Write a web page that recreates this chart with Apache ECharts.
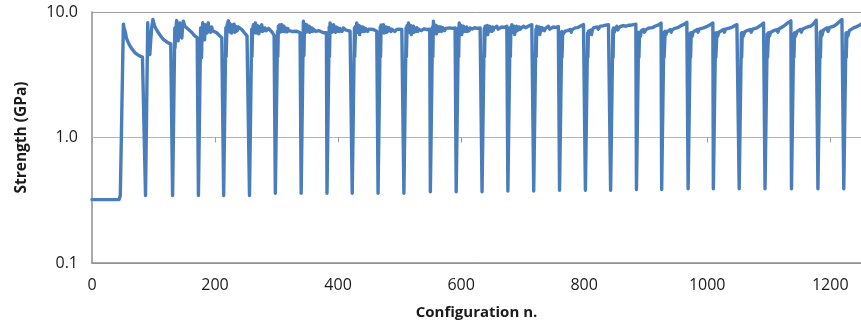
<!DOCTYPE html>
<html>
<head>
<meta charset="utf-8">
<script src="https://cdn.jsdelivr.net/npm/echarts@6/dist/echarts.min.js"></script>
<style>
html,body{margin:0;padding:0;background:#fff;}
#chart{width:861px;height:329px;}
</style>
</head>
<body>
<div id="chart"></div>
<script>
// Axis settings / tick labels
const xTickValues = [0, 200, 400, 600, 800, 1000, 1200];
const yTickLabels = ['0.1', '1.0', '10.0'];
const xAxisTitle = 'Configuration n.';
const yAxisTitle = 'Strength (GPa)';

// Strength (GPa) vs configuration number, one cycle per line
const strengthPoints = [
  [0,0.32],[44,0.32],[46,0.345],[48,0.345],[49,0.35],[51,8.0],[52,7.5],[54,7.0],[56,6.2],[59,5.7],[62,5.34],[66,5.0],[70,4.73],[74,4.58],[78,4.45],[82,4.38],[85,4.32],[86,4.3],
  [87,0.345],[90.2,0.345],[90.6,8.2],[91,7.0],[92,5.85],[94,4.58],[95,5.5],[97,7.47],[99,8.72],[100,8.3],[102,7.7],[105,7.2],[108,6.83],[112,6.4],[116,6.04],[120,5.85],[124,5.68],[128,5.58],[130,5.51],
  [131,0.345],[134.2,0.345],[134.6,7.47],[135,5.18],[136,6.8],[137.5,8.55],[139,7.6],[140,5.9],[141.5,7.25],[143,8.18],[144.5,7.0],[146,6.2],[147,7.3],[148.5,8.43],[151,7.7],[154,7.45],[157,7.25],[162,6.9],[167,6.45],[171,6.25],[172,6.2],
  [173,0.345],[176.2,0.345],[176.6,7.47],[177,6.5],[178,4.32],[179,7.0],[180,8.2],[181,7.3],[182,7.7],[183,6.0],[184,7.93],[185,7.1],[186,7.6],[186.8,6.8],[188,7.4],[189,8.2],[190,7.0],[190.8,7.6],[192,7.7],[193,6.9],[194.5,7.6],[196,7.1],[198,7.2],[202.7,6.83],[207,6.5],[211,6.24],[213,6.2],
  [214,0.345],[217.2,0.345],[217.6,7.5],[218,4.4],[219.5,7.8],[221.7,8.5],[223,7.0],[224,8.1],[225,6.9],[226,7.8],[227,6.8],[228,7.9],[229,7.0],[230,7.7],[231,8.0],[232,6.9],[233,7.7],[234,7.0],[235,7.6],[236,7.1],[238,7.6],[240.7,7.7],[244,7.2],[248,6.8],[252,6.45],[254.5,6.25],[255,6.2],
  [256,0.345],[259.2,0.345],[259.6,7.3],[260,4.4],[261,7.0],[262.3,7.93],[263,6.9],[264,7.6],[265.5,8.18],[266.3,6.8],[267,7.6],[268,6.9],[268.8,7.8],[269.6,6.9],[270.4,7.6],[271.2,6.7],[272,7.4],[273,7.0],[273.8,7.7],[275,7.1],[275.9,7.93],[277,7.0],[278,7.5],[279.5,7.1],[281.3,7.47],[283,7.1],[284,7.35],[287,7.4],[289.4,7.25],[293,6.9],[296,6.5],[297,6.43],
  [298,0.36],[301.2,0.36],[301.6,7.0],[302,4.4],[303,7.7],[303.8,7.0],[304.5,7.9],[305.3,6.9],[306,7.9],[307,7.0],[308.4,7.93],[309.2,7.0],[310,7.6],[311,7.1],[312,7.7],[313,7.0],[313.8,7.5],[315,7.0],[316,7.4],[317,6.95],[318,7.4],[320,7.1],[322,7.25],[325,7.0],[328,7.2],[332.8,7.03],[336,6.9],[338.2,6.83],[339,6.8],
  [340,0.36],[343.2,0.36],[343.6,8.43],[344.5,4.5],[345.3,7.6],[346,7.0],[347,8.0],[348,6.9],[349,7.93],[350,7.0],[351,7.6],[352,7.0],[353,7.7],[354,6.9],[355,7.5],[356,7.0],[357.2,7.47],[358.5,7.0],[360,7.3],[362,7.35],[363.5,7.0],[365.3,7.1],[369,7.1],[372,6.9],[376.2,6.83],[381,6.85],
  [382,0.36],[385.2,0.36],[385.6,7.6],[386,4.4],[387,8.18],[388,7.0],[389,7.9],[390,6.9],[391,7.8],[392,7.0],[392.8,7.93],[394,7.0],[395,7.6],[396,6.9],[397,7.6],[398,7.0],[399,7.5],[400.5,7.7],[402,7.0],[403,7.4],[405,7.5],[406.5,7.0],[408.7,7.47],[412,7.2],[415,7.25],[419.5,7.03],[422,7.0],
  [423,0.36],[426.2,0.36],[426.6,7.5],[427,4.4],[428.5,7.7],[429.3,7.0],[430.3,8.18],[431.2,6.9],[432,7.7],[433,6.9],[433.8,7.8],[435,6.6],[435.8,7.7],[437,7.0],[438,7.5],[439,7.0],[440,7.6],[441,7.0],[442,7.5],[443,7.0],[444.5,7.4],[446.6,7.47],[448,7.0],[450,7.3],[453,7.4],[457.4,7.25],[460,7.1],[462.9,7.03],[464,7.0],
  [465,0.36],[468.2,0.36],[468.6,7.6],[469,4.4],[470,7.9],[471,6.9],[472,7.8],[472.8,7.0],[473.7,7.93],[475,6.8],[476,7.6],[477,7.0],[478,7.6],[479,6.9],[480,7.5],[481,7.0],[482.5,7.5],[484.6,7.47],[486,7.0],[487,7.3],[490,7.4],[492,7.0],[495.4,7.25],[499,7.3],[503.6,7.25],[506,7.2],
  [507,0.36],[510.2,0.36],[510.6,7.5],[511,4.4],[512.2,7.8],[513.2,7.0],[514.4,8.18],[515.2,6.9],[516,7.6],[517,7.0],[518,7.8],[519,6.6],[520,7.7],[521,7.0],[522.5,7.7],[523.5,6.9],[525,7.4],[526,7.0],[528,7.5],[529.5,7.0],[531,7.3],[533.3,7.47],[535,7.1],[537,7.3],[540,7.35],[544.2,7.25],[547,7.2],[549,7.3],
  [550,0.37],[553.2,0.37],[553.6,7.6],[554,4.4],[555,8.43],[556,7.0],[557,7.9],[558,7.0],[559,7.8],[559.8,6.7],[560.6,7.7],[562,7.0],[563,7.6],[564,7.0],[565,7.6],[566,7.1],[567,7.6],[568,7.0],[570,7.5],[571.3,7.47],[573,7.1],[575,7.4],[578,7.5],[582.1,7.47],[586,7.4],[590.2,7.47],[591,7.5],
  [592,0.37],[595.2,0.37],[595.6,7.5],[596,4.4],[596.9,8.18],[597.8,7.0],[598.5,7.6],[599.3,6.9],[600,7.8],[601,6.6],[601.8,7.6],[602.8,7.0],[603.8,7.7],[605,7.0],[606,7.5],[607.5,7.0],[609,7.6],[610,7.0],[611,7.4],[613,7.1],[614.6,7.47],[618,7.3],[622,7.5],[626,7.4],[630.9,7.47],[633,7.5],
  [634,0.37],[637.2,0.37],[637.6,7.4],[638,4.4],[639,7.7],[640,7.0],[640.8,7.6],[641.6,6.9],[642.4,7.8],[643.4,6.6],[644.3,7.6],[645.2,7.0],[646.2,7.7],[647.2,7.93],[648.2,7.1],[649,7.5],[650,7.0],[651,7.6],[652,7.1],[653,7.4],[655,7.6],[658,7.7],[660,7.3],[662,7.5],[666,7.6],[670,7.55],[674.3,7.7],[675,7.7],
  [676,0.375],[679.2,0.375],[679.6,7.5],[680,4.4],[681,7.6],[681.8,7.0],[682.4,7.93],[683.2,7.0],[684,7.6],[685,6.9],[686,7.7],[687,6.6],[688,7.5],[689,7.0],[690,7.7],[691,7.1],[692,7.6],[693,7.2],[694.5,7.6],[696,7.3],[698,7.5],[701.4,7.7],[705,7.5],[709,7.7],[712,7.75],[714.9,7.93],[717,7.9],
  [718,0.375],[721.2,0.375],[721.6,7.3],[722,4.4],[723,7.7],[724,7.0],[725,7.6],[726,6.9],[727,7.6],[728,6.6],[729,7.5],[730,7.0],[731.5,7.5],[733.9,7.47],[735.5,7.1],[737,7.4],[740,7.6],[742,7.7],[744,7.3],[746,7.5],[750,7.6],[754,7.55],[758,7.65],[759,7.6],
  [760,0.38],[763.2,0.38],[763.6,7.0],[764,4.35],[765,6.6],[766,6.83],[767.5,6.5],[769.1,7.03],[771,6.8],[773,7.1],[775,7.0],[777.2,7.25],[779,6.9],[780,7.2],[783,7.4],[785.4,7.47],[789,7.5],[793.5,7.7],[796,7.8],[798.9,7.93],[801,8.0],
  [802,0.38],[805.2,0.38],[805.6,6.8],[806,4.35],[807,7.03],[809,6.8],[811,7.2],[812,6.6],[813,7.1],[815.1,7.47],[818,7.4],[821,7.6],[823,7.3],[826,7.7],[830,7.75],[835,7.85],[839.5,7.93],[842,8.0],
  [843,0.38],[846.2,0.38],[846.6,7.2],[847,4.35],[847.7,7.47],[849,6.9],[850,7.2],[853.1,7.7],[855,7.2],[856,7.5],[860,7.7],[863.9,7.8],[868,7.7],[872,7.85],[876,7.85],[880.2,7.93],[884,8.0],
  [885,0.385],[888.2,0.385],[888.6,6.9],[889,4.35],[890,6.8],[891.5,6.4],[893,7.1],[896.4,7.25],[898,6.9],[900,7.2],[904,7.4],[907.3,7.47],[911,7.5],[915,7.7],[918.2,7.8],[921,7.9],[923.6,8.1],[925,8.15],
  [926,0.385],[929.2,0.385],[929.6,6.9],[930,4.35],[931.7,7.03],[933,6.6],[934,6.9],[937,7.15],[939.8,7.25],[941.5,6.9],[943,7.2],[947,7.4],[950.7,7.47],[954,7.6],[958,7.8],[961.5,7.93],[964,8.1],[966.9,8.28],[968,8.3],
  [969,0.39],[972.2,0.39],[972.6,6.8],[973,4.35],[974,6.83],[975.5,6.4],[977,6.9],[980,7.1],[983.2,7.25],[985,6.9],[987,7.3],[990,7.35],[994,7.47],[998,7.6],[1001,7.8],[1004.9,7.93],[1007,8.05],[1009.2,8.18],
  [1010,0.39],[1013.2,0.39],[1013.6,6.8],[1014,4.35],[1015.8,6.83],[1017,6.4],[1019,6.9],[1022,7.1],[1026.5,7.25],[1028,6.9],[1030,7.3],[1034,7.4],[1037.4,7.47],[1041,7.6],[1045,7.8],[1048.3,7.93],[1051,8.18],
  [1052,0.39],[1055.2,0.39],[1055.6,6.8],[1056,4.35],[1057,6.83],[1058.5,6.4],[1061,6.95],[1066,7.15],[1069.9,7.25],[1071.5,6.9],[1074,7.3],[1077,7.4],[1080.8,7.47],[1084,7.6],[1088,7.9],[1091.6,8.18],[1093,8.25],
  [1094,0.39],[1097.2,0.39],[1097.6,6.7],[1098,4.35],[1099.7,6.83],[1101,6.4],[1103,6.9],[1108,7.1],[1113.3,7.25],[1115,6.9],[1117,7.35],[1120,7.5],[1124.1,7.7],[1127,7.9],[1131,8.2],[1133.9,8.43],[1136,8.5],
  [1137,0.39],[1140.2,0.39],[1140.6,6.7],[1141,4.35],[1142,6.83],[1143.5,6.4],[1146,7.0],[1151.2,7.25],[1153,6.9],[1155,7.3],[1159,7.45],[1163,7.6],[1167.5,7.7],[1171,7.9],[1174,8.2],[1177.2,8.6],[1179,8.6],
  [1180,0.39],[1183.2,0.39],[1183.6,6.9],[1184,4.35],[1185,7.03],[1186.5,6.5],[1189,7.2],[1194.6,7.47],[1196.5,7.0],[1199,7.55],[1205.4,7.7],[1209,7.9],[1213,8.2],[1216,8.5],[1219,8.72],[1221,8.7],
  [1222,0.39],[1225.2,0.39],[1225.6,6.8],[1226,4.35],[1227.1,6.83],[1228.5,6.4],[1231,7.1],[1234,7.3],[1237.9,7.47],[1242,7.6],[1245,7.8],[1248.8,7.93],[1250,8.0]
];

const chart = echarts.init(document.getElementById('chart'), null, {renderer: 'canvas'});
const labelFont = '"Open Sans", "Liberation Sans", sans-serif';

const option = {
  animation: false,
  backgroundColor: '#ffffff',
  grid: {left: 92, right: 0, top: 12, bottom: 66, containLabel: false},
  xAxis: [
    {
      type: 'value', min: 0, max: 1250, interval: 200, position: 'bottom',
      axisLine: {show: true, lineStyle: {color: '#8e8e8e', width: 1.5}},
      axisTick: {show: false},
      splitLine: {show: false},
      axisLabel: {
        show: true, margin: 14, fontSize: 16, color: '#1a1a1a', fontFamily: labelFont,
        showMaxLabel: false,
        formatter: function (v) { return xTickValues.indexOf(v) >= 0 ? String(v) : ''; }
      },
      name: xAxisTitle, nameLocation: 'middle', nameGap: 42,
      nameTextStyle: {fontSize: 15, fontWeight: 'bold', color: '#1a1a1a', fontFamily: labelFont}
    },
    {
      // horizontal axis crossing at 1.0 (Excel default for log scale), with its tick marks
      type: 'value', min: 0, max: 1250, interval: 200, position: 'bottom', offset: -125.5,
      axisLine: {show: true, lineStyle: {color: '#b4b4b4', width: 1}},
      axisTick: {show: true, length: 5, lineStyle: {color: '#9a9a9a', width: 1}},
      axisLabel: {show: false},
      splitLine: {show: false}
    }
  ],
  yAxis: {
    type: 'log', logBase: 10, min: 0.1, max: 10,
    axisLine: {show: true, lineStyle: {color: '#8e8e8e', width: 1.5}},
    axisTick: {show: false},
    minorTick: {show: false},
    splitLine: {show: true, lineStyle: {color: '#9e9e9e', width: 1}},
    axisLabel: {
      margin: 14, fontSize: 16, color: '#1a1a1a', fontFamily: labelFont,
      formatter: function (v) {
        const idx = Math.round(Math.log10(v)) + 1;
        return yTickLabels[idx] !== undefined ? yTickLabels[idx] : '';
      }
    },
    name: yAxisTitle, nameLocation: 'middle', nameGap: 62, nameRotate: 90,
    nameTextStyle: {fontSize: 15.5, fontWeight: 'bold', color: '#1a1a1a', fontFamily: labelFont}
  },
  series: [{
    type: 'line',
    xAxisIndex: 0, yAxisIndex: 0,
    data: strengthPoints,
    showSymbol: false,
    symbol: 'none',
    smooth: false,
    sampling: null,
    clip: true,
    lineStyle: {color: '#4a7ebb', width: 3.4, cap: 'round', join: 'round'},
    z: 5
  }]
};
chart.setOption(option);
</script>
</body>
</html>
